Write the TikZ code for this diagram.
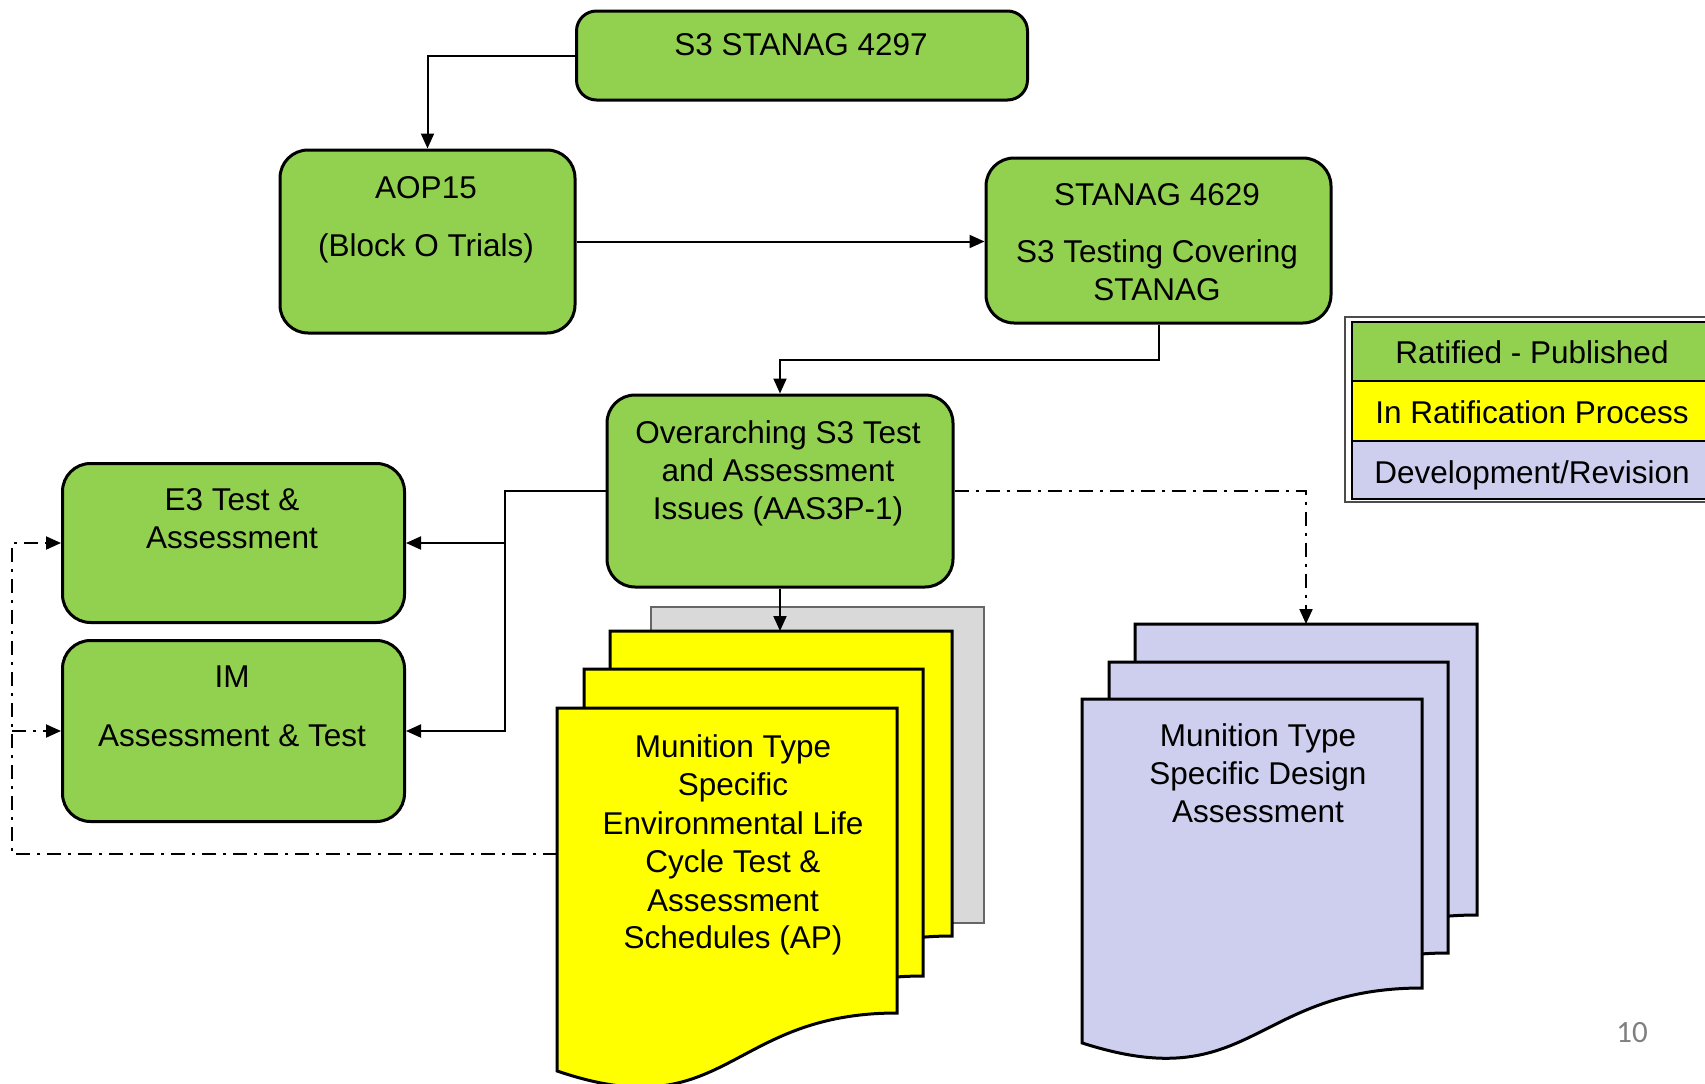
\documentclass[tikz,border=0pt]{standalone}
\usepackage{fontspec}
\setmainfont{Liberation Sans}
\newfontfamily\pgnumfont{Carlito}
\usetikzlibrary{arrows.meta}
\definecolor{okgreen}{RGB}{146,208,80}
\definecolor{docyellow}{RGB}{255,255,0}
\definecolor{devpurple}{RGB}{206,206,238}
\definecolor{shadegray}{RGB}{217,217,217}
\newcommand\docshape[6]{%
  \coordinate (#1-top) at ({(#2+#4)/2},#3);
  \filldraw[fill=#6, draw=black, line width=3pt, line join=miter]
    (#2,#3) -- (#4,#3) -- (#4,#5)
    .. controls ({(#2+#4)/2},#5) and ({(#2+#4)/2},{#3+1.38*(#5-#3)}) ..
    (#2,{#3+1.19*(#5-#3)}) -- cycle;
}
\begin{document}
\begin{tikzpicture}[x=1pt,y=-1pt,
  gbox/.style={draw=black, line width=3pt, fill=okgreen, rounded corners=28pt, inner sep=0pt, anchor=north west},
  txt/.style={anchor=base, inner sep=0pt, font=\fontsize{31.5}{38}\selectfont},
  legrow/.style={draw=black, line width=2pt, inner sep=0pt, anchor=north west, minimum width=362pt},
  conn/.style={draw=black, line width=2pt},
  arr/.style={conn, -{Triangle[length=15pt,width=13pt]}},
  dd/.style={arr, dash pattern=on 14pt off 7pt on 3pt off 7pt}
]
\useasboundingbox (0,0) rectangle (1705,1084);

% ---- green boxes
\node[gbox, minimum width=451pt, minimum height=89pt, rounded corners=20pt] (s4297) at (575,9.5) {};
\node[gbox, minimum width=295pt, minimum height=183pt] (aop) at (278.5,148.5) {};
\node[gbox, minimum width=345pt, minimum height=165pt] (s4629) at (984.5,156.5) {};
\node[gbox, minimum width=346pt, minimum height=192pt] (over) at (605.5,393.5) {};
\node[gbox, minimum width=342pt, minimum height=159pt] (e3) at (61,462) {};
\node[gbox, minimum width=342pt, minimum height=181pt] (im) at (61,639) {};

\node[txt] (t4297) at (801,55) {S3 STANAG 4297};
\node[txt] (taop1) at (426,198) {AOP15};
\node[txt] (taop2) at (426,256) {(Block O Trials)};
\node[txt] (t46291) at (1157,205) {STANAG 4629};
\node[txt] (t46292) at (1157,262) {S3 Testing Covering};
\node[txt] (t46293) at (1157,300) {STANAG};
\node[txt] (tov1) at (778,443) {Overarching S3 Test};
\node[txt] (tov2) at (778,481) {and Assessment};
\node[txt] (tov3) at (778,519) {Issues (AAS3P-1)};
\node[txt] (te31) at (232,510) {E3 Test \&};
\node[txt] (te32) at (232,548) {Assessment};
\node[txt] (tim1) at (232,687) {IM};
\node[txt] (tim2) at (232,746) {Assessment \& Test};

% ---- grey sheet and yellow documents
\node[draw=black!60, line width=1.5pt, fill=shadegray, anchor=north west, inner sep=0pt,
      minimum width=333pt, minimum height=316pt] (graysheet) at (650,606) {};
\docshape{yd3}{610}{631}{952}{936}{docyellow}
\docshape{yd2}{584}{669}{923}{976}{docyellow}
\docshape{yd1}{557}{708}{897}{1013}{docyellow}
\node[txt] (ty1) at (733,757) {Munition Type};
\node[txt] (ty2) at (733,795) {Specific};
\node[txt] (ty3) at (733,834) {Environmental Life};
\node[txt] (ty4) at (733,872) {Cycle Test \&};
\node[txt] (ty5) at (733,911) {Assessment};
\node[txt] (ty6) at (733,948) {Schedules (AP)};

% ---- purple documents
\docshape{pd3}{1135}{624}{1477}{915}{devpurple}
\docshape{pd2}{1109}{662}{1448}{953}{devpurple}
\docshape{pd1}{1082}{699}{1422}{988}{devpurple}
\node[txt] (tp1) at (1258,746) {Munition Type};
\node[txt] (tp2) at (1258,784) {Specific Design};
\node[txt] (tp3) at (1258,822) {Assessment};

% ---- legend
\draw[draw=black!70, line width=1.2pt] (1345,317) rectangle (1725,502);
\node[legrow, fill=okgreen, minimum height=59pt] (lg1) at (1351,321) {};
\node[legrow, fill=docyellow, minimum height=60pt] (lg2) at (1351,380) {};
\node[legrow, fill=devpurple, minimum height=58pt] (lg3) at (1351,440) {};
\node[txt] (tl1) at (1532,363) {Ratified - Published};
\node[txt] (tl2) at (1532,423) {In Ratification Process};
\node[txt] (tl3) at (1532,483) {Development/Revision};

% ---- connectors
\draw[arr] (s4297.west) -| (aop.north);
\draw[arr] (aop.east) -- (aop.east -| s4629.west);
\draw[arr] (s4629.south) -- ++(0,35) -| (over.north);
\coordinate (bus) at (505,0);
\draw[arr] (over.west) -- (over.west -| bus) |- (e3.east);
\draw[arr] (over.west -| bus) |- (im.east);
\draw[arr] (over.south) -- (over.south |- yd3-top);
\draw[dd] (over.east) -| (pd3-top);
\coordinate (ret) at (557,854);
\coordinate (rail) at (12,0);
\draw[dd] (ret) -- (ret -| rail) |- (e3.west);
\draw[dd] (rail |- im.west) -- (im.west);

% ---- page number
\node[anchor=base, inner sep=0pt, text=black!50, font=\pgnumfont\fontsize{31}{36}\selectfont] (pgno) at (1632,1042) {10};
\end{tikzpicture}
\end{document}
